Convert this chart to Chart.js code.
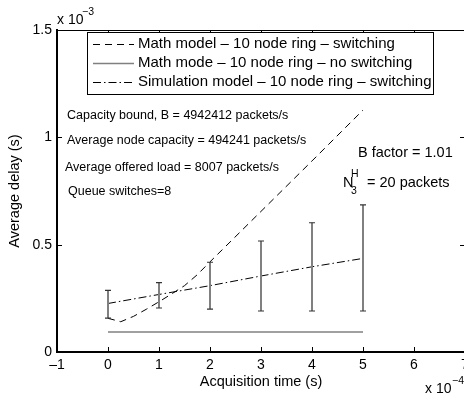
<!DOCTYPE html>
<html>
<head>
<meta charset="utf-8">
<script src="https://cdn.jsdelivr.net/npm/chart.js@4.4.1/dist/chart.umd.min.js"></script>
<style>
    html, body { margin: 0; padding: 0; overflow: hidden; background: #fff; }
    #wrap { width: 480px; height: 396px; }
</style>
</head>
<body>
<div id="wrap"><canvas id="delayChart"></canvas></div>
<script>
// x in units of 1e-4 s, y in units of 1e-3 s
const mathSwitchX = [0, 0.25, 0.5, 0.75, 1, 1.25, 1.5, 1.75, 2, 3, 4, 5];
const mathSwitchY = [0.157, 0.141, 0.166, 0.199, 0.234, 0.271, 0.309, 0.36, 0.42, 0.655, 0.89, 1.127];
const mathNoSwitchX = [0, 5];
const mathNoSwitchY = [0.093, 0.093];
const simX = [0, 1, 2, 3, 4, 5];
const simMean = [0.226, 0.268, 0.309, 0.354, 0.397, 0.436];
const simLow = [0.158, 0.205, 0.2, 0.191, 0.191, 0.191];
const simHigh = [0.287, 0.323, 0.418, 0.517, 0.602, 0.685];

const xTicks = [-1, 0, 1, 2, 3, 4, 5, 6, 7];
const yTicks = [0, 0.5, 1, 1.5];

const seriesLabels = [
    'Math model \u2013 10 node ring \u2013 switching',
    'Math mode \u2013 10 node ring \u2013 no switching',
    'Simulation model \u2013 10 node ring \u2013 switching'
];
const infoLines = [
    'Capacity bound, B = 4942412 packets/s',
    'Average node capacity = 494241 packets/s',
    'Average offered load = 8007 packets/s',
    'Queue switches=8'
];
const bFactorText = 'B factor = 1.01';
const nText = '= 20 packets';

const FONT = '"Liberation Sans", Arial, Helvetica, sans-serif';
const toPts = (xs, ys) => xs.map((x, i) => ({ x: x, y: ys[i] }));

const frameAndExtras = {
    id: 'frameAndExtras',
    afterDatasetsDraw(chart) {
        const ctx = chart.ctx;
        const xs = chart.scales.x;
        const ys = chart.scales.y;
        const area = chart.chartArea;

        // error bars for the simulation
        ctx.save();
        simX.forEach((x, i) => {
            const px = xs.getPixelForValue(x);
            const top = ys.getPixelForValue(simHigh[i]);
            const bot = ys.getPixelForValue(simLow[i]);
            ctx.strokeStyle = '#808080';
            ctx.lineWidth = 2;
            ctx.beginPath();
            ctx.moveTo(px, top);
            ctx.lineTo(px, bot);
            ctx.stroke();
            ctx.strokeStyle = '#333';
            ctx.lineWidth = 1.2;
            ctx.beginPath();
            ctx.moveTo(px - 3, top);
            ctx.lineTo(px + 3, top);
            ctx.moveTo(px - 3, bot);
            ctx.lineTo(px + 3, bot);
            ctx.stroke();
        });
        ctx.restore();

        // frame: top line and inward ticks
        ctx.save();
        ctx.strokeStyle = '#000';
        ctx.lineWidth = 1;
        ctx.beginPath();
        ctx.moveTo(area.left, area.top + 0.5);
        ctx.lineTo(area.right, area.top + 0.5);
        ctx.moveTo(area.right - 0.5, area.top);
        ctx.lineTo(area.right - 0.5, area.bottom);
        xTicks.forEach(v => {
            const px = Math.round(xs.getPixelForValue(v)) + 0.5;
            ctx.moveTo(px, area.bottom);
            ctx.lineTo(px, area.bottom - 5);
            ctx.moveTo(px, area.top);
            ctx.lineTo(px, area.top + 4);
        });
        yTicks.forEach(v => {
            const py = Math.round(ys.getPixelForValue(v)) + 0.5;
            ctx.moveTo(area.left, py);
            ctx.lineTo(area.left + 5, py);
            ctx.moveTo(area.right, py);
            ctx.lineTo(area.right - 5, py);
        });
        ctx.stroke();
        ctx.restore();

        // legend box
        ctx.save();
        const lx = 87, ly = 32, lw = 346, lh = 62;
        ctx.fillStyle = '#fff';
        ctx.fillRect(lx, ly, lw, lh);
        ctx.strokeStyle = '#000';
        ctx.lineWidth = 1;
        ctx.strokeRect(lx + 0.5, ly + 0.5, lw, lh);
        ctx.font = '15px ' + FONT;
        ctx.textBaseline = 'middle';
        ctx.fillStyle = '#000';
        chart.data.datasets.forEach((ds, i) => {
            const y = 43.5 + i * 19.2;
            ctx.strokeStyle = ds.borderColor;
            ctx.lineWidth = ds.borderWidth;
            ctx.setLineDash(ds.borderDash || []);
            ctx.beginPath();
            ctx.moveTo(93, Math.round(y) + 0.5);
            ctx.lineTo(134, Math.round(y) + 0.5);
            ctx.stroke();
            ctx.setLineDash([]);
            ctx.fillText(ds.label, 138, y);
        });
        ctx.restore();

        // info texts
        ctx.save();
        ctx.fillStyle = '#000';
        ctx.textBaseline = 'middle';
        ctx.font = '12.5px ' + FONT;
        const infoPos = [[67, 116], [67, 141], [65, 168], [68, 192]];
        infoLines.forEach((t, i) => ctx.fillText(t, infoPos[i][0], infoPos[i][1]));

        ctx.font = '14.5px ' + FONT;
        ctx.fillText(bFactorText, 358, 153);
        ctx.fillText('N', 343, 183);
        ctx.fillText(nText, 367, 183);
        ctx.font = '10.5px ' + FONT;
        ctx.fillText('H', 351, 174);
        ctx.fillText('3', 351, 191);

        // axis multipliers
        ctx.font = '14px ' + FONT;
        ctx.fillText('x 10', 57, 20);
        ctx.fillText('x 10', 425, 389);
        ctx.font = '10.5px ' + FONT;
        ctx.fillText('\u22123', 82, 12);
        ctx.fillText('\u22124', 452, 381);
        ctx.restore();
    }
};

const ctx = document.getElementById('delayChart').getContext('2d');
new Chart(ctx, {
    type: 'line',
    data: {
        datasets: [
            {
                label: seriesLabels[0],
                data: toPts(mathSwitchX, mathSwitchY),
                borderColor: '#000',
                borderWidth: 1,
                borderDash: [7, 5],
                pointRadius: 0,
                tension: 0
            },
            {
                label: seriesLabels[1],
                data: toPts(mathNoSwitchX, mathNoSwitchY),
                borderColor: '#808080',
                borderWidth: 1.5,
                pointRadius: 0
            },
            {
                label: seriesLabels[2],
                data: toPts(simX, simMean),
                borderColor: '#000',
                borderWidth: 1,
                borderDash: [8, 3, 1.5, 3],
                pointRadius: 0
            }
        ]
    },
    options: {
        responsive: true,
        maintainAspectRatio: false,
        animation: false,
        layout: { padding: { top: 30, right: 15, left: 0, bottom: 0 } },
        plugins: {
            legend: { display: false },
            tooltip: { enabled: false }
        },
        scales: {
            x: {
                type: 'linear',
                min: -1,
                max: 7,
                afterFit(s) { s.height = 44; },
                afterBuildTicks(s) { s.ticks = xTicks.map(v => ({ value: v })); },
                grid: { display: false, drawTicks: false },
                border: { display: true, color: '#000', width: 2 },
                ticks: {
                    color: '#000',
                    font: { family: FONT, size: 14 },
                    padding: 5,
                    maxRotation: 0,
                    callback: v => (v < 0 ? '\u2013' + Math.abs(v) : String(v))
                },
                title: {
                    display: true,
                    text: 'Acquisition time (s)',
                    color: '#000',
                    font: { family: FONT, size: 14.5 },
                    padding: { top: 0, bottom: 5 }
                }
            },
            y: {
                type: 'linear',
                min: 0,
                max: 1.5,
                afterFit(s) { s.width = 57; },
                afterBuildTicks(s) { s.ticks = yTicks.map(v => ({ value: v })); },
                grid: { display: false, drawTicks: false },
                border: { display: true, color: '#000', width: 2 },
                ticks: {
                    color: '#000',
                    font: { family: FONT, size: 14 },
                    padding: 5,
                    callback: v => String(v)
                },
                title: {
                    display: true,
                    text: 'Average delay (s)',
                    color: '#000',
                    font: { family: FONT, size: 14.5 },
                    padding: { top: 6, bottom: 0 }
                }
            }
        }
    },
    plugins: [frameAndExtras]
});
</script>
</body>
</html>
